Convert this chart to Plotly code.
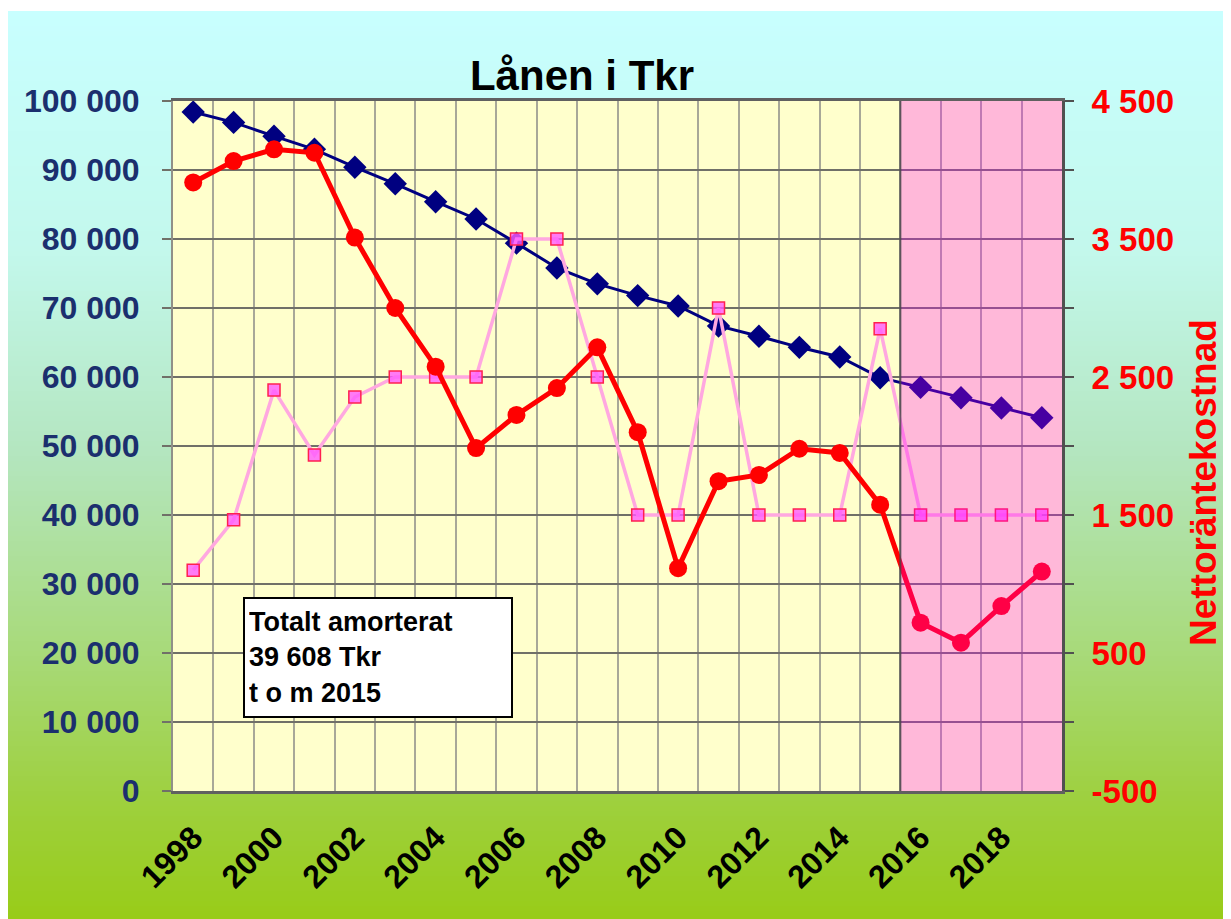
import plotly.graph_objects as go

# ---------------- data ----------------
years = list(range(1998, 2020))
loans_tkr = [98400, 96900, 94900, 93000, 90400, 88000, 85400, 82900, 79400, 75800, 73500,
             71800, 70300, 67400, 65900, 64300, 62900, 59900, 58500, 57000, 55500, 54100]
net_interest = [3910, 4065, 4150, 4125, 3510, 3000, 2575, 1985, 2225, 2420, 2715,
                2100, 1115, 1745, 1790, 1980, 1950, 1575, 720, 575, 840, 1090]
amortization = [1100, 1465, 2405, 1935, 2355, 2500, 2500, 2500, 3500, 3500, 2500,
                1500, 1500, 3000, 1500, 1500, 1500, 2850, 1500, 1500, 1500, 1500]

x_tick_years = list(range(1998, 2019, 2))
left_tickvals = list(range(0, 100001, 10000))
left_ticktext = ["0", "10 000", "20 000", "30 000", "40 000", "50 000", "60 000",
                 "70 000", "80 000", "90 000", "100 000"]
right_tickvals = list(range(-500, 4501, 500))
right_ticktext = ["-500", "", "500", "", "1 500", "", "2 500", "", "3 500", "", "4 500"]

title_text = "Lånen i Tkr"
right_title = "Nettoräntekostnad"
box_text = "Totalt amorterat<br>39 608 Tkr<br>t o m 2015"
forecast_start, forecast_end = 2015.5, 2019.5

# ---------------- geometry helpers ----------------
OFF = 8  # page body margin offset
W, H = 1231 - OFF, 919 - OFF
L, R, T, B = 173 - OFF, 1062 - OFF, 101 - OFF, 791 - OFF
pw, ph = R - L, B - T


def px_to_paper_y(py):
    return (B - (py - OFF)) / ph


def px_to_paper_x(px):
    return ((px - OFF) - L) / pw


# background gradient stops (screen pixel y, rgb)
stops = [(11, (200, 255, 255)), (250, (195, 248, 236)), (450, (180, 230, 192)),
         (650, (168, 218, 122)), (800, (158, 208, 62)), (919, (152, 204, 24))]


def grad(py):
    for (y0, c0), (y1, c1) in zip(stops[:-1], stops[1:]):
        if y0 <= py <= y1:
            t = (py - y0) / (y1 - y0)
            return "rgb(%d,%d,%d)" % tuple(round(a + (b - a) * t) for a, b in zip(c0, c1))
    return "rgb(%d,%d,%d)" % stops[-1][1]


shapes = []
step = 5
py = 11
while py < 925:
    shapes.append(dict(type="rect", xref="paper", yref="paper",
                       x0=-0.3, x1=1.3,
                       y0=px_to_paper_y(py + step + 1), y1=px_to_paper_y(py),
                       fillcolor=grad(py + step / 2), line=dict(width=0), layer="below"))
    py += step
# plot area fill
shapes.append(dict(type="rect", xref="paper", yref="paper", x0=0, x1=1, y0=0, y1=1,
                   fillcolor="#FFFFCC", line=dict(width=0), layer="below"))
# forecast overlay
shapes.append(dict(type="rect", xref="x", yref="paper", x0=forecast_start, x1=forecast_end,
                   y0=0, y1=1, fillcolor="rgba(255,0,250,0.28)", line=dict(width=0),
                   layer="above"))
shapes.append(dict(type="line", xref="x", yref="paper", x0=forecast_start, x1=forecast_start,
                   y0=0, y1=1, line=dict(color="rgba(70,70,70,0.8)", width=2), layer="above"))

fig = go.Figure()
fig.add_trace(go.Scatter(
    x=years, y=loans_tkr, mode="lines+markers", yaxis="y",
    line=dict(color="#000080", width=3),
    marker=dict(symbol="diamond", size=18, color="#000080"),
    showlegend=False))
fig.add_trace(go.Scatter(
    x=years, y=amortization, mode="lines+markers", yaxis="y2",
    line=dict(color="#FFA8E0", width=3.5),
    marker=dict(symbol="square", size=12, color="rgba(255,90,255,0.8)",
                line=dict(color="#FF2050", width=1.5)),
    showlegend=False))
fig.add_trace(go.Scatter(
    x=years, y=net_interest, mode="lines+markers", yaxis="y2",
    line=dict(color="#FF0000", width=5),
    marker=dict(symbol="circle", size=18, color="#FF0000"),
    showlegend=False))

font_family = "Liberation Sans, Arial, sans-serif"

fig.update_layout(
    width=W, height=H,
    margin=dict(l=L, r=W - R, t=T, b=H - B, pad=0),
    paper_bgcolor="white", plot_bgcolor="#FFFFCC",
    font=dict(family=font_family),
    title=dict(text=title_text, x=(582 - OFF) / W, xanchor="center",
               y=1 - (75 - OFF) / H, yanchor="middle",
               font=dict(size=42, color="black", weight="bold")),
    xaxis=dict(range=[1997.5, 2019.5], tickmode="array", tickvals=x_tick_years,
               ticktext=[str(v) for v in x_tick_years], tickangle=-45,
               tickfont=dict(size=32, color="black", weight="bold"),
               showgrid=False, ticks="", ticklabelstandoff=12,
               minor=dict(tickmode="array", tickvals=[y + 0.5 for y in years[:-1]],
                          showgrid=True, gridcolor="#A8A898", gridwidth=2, ticks=""),
               showline=True, linecolor="#606060", linewidth=3, mirror=True,
               zeroline=False, fixedrange=True),
    yaxis=dict(range=[0, 100000], tickmode="array", tickvals=left_tickvals,
               ticktext=left_ticktext,
               tickfont=dict(size=32, color="#1B2F6E", weight="bold"),
               showgrid=True, gridcolor="#707068", gridwidth=2,
               ticks="outside", ticklen=9, tickwidth=2, tickcolor="#707068",
               ticklabelstandoff=16,
               showline=True, linecolor="#909088", linewidth=2, zeroline=False),
    yaxis2=dict(range=[-500, 4500], overlaying="y", side="right", tickmode="array",
                tickvals=right_tickvals, ticktext=right_ticktext,
                tickfont=dict(size=33, color="#FF0000", weight="bold"),
                showgrid=False, ticks="outside", ticklen=9, tickwidth=2, tickcolor="#505050",
                ticklabelstandoff=11,
                showline=True, linecolor="#505050", linewidth=3, zeroline=False),
    shapes=shapes,
    annotations=[
        dict(text=right_title, textangle=-90, xref="paper", yref="paper",
             x=px_to_paper_x(1203), y=px_to_paper_y(483), xanchor="center", yanchor="middle",
             showarrow=False, font=dict(size=37, color="#FF0000", weight="bold")),
        dict(text=box_text, xref="paper", yref="paper",
             x=px_to_paper_x(243), y=px_to_paper_y(597), xanchor="left", yanchor="top",
             align="left", valign="middle", showarrow=False, width=258, height=109,
             bgcolor="white", bordercolor="black", borderwidth=2, borderpad=4,
             font=dict(size=27, color="black", weight="bold")),
    ],
)

fig.write_html("out.html")
